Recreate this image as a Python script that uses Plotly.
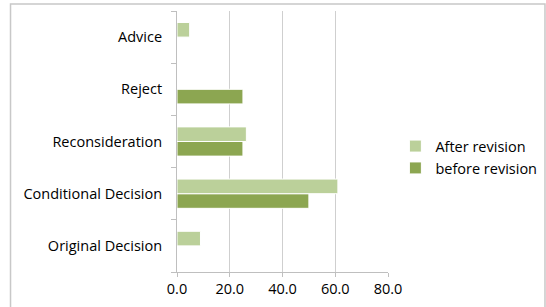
import plotly.graph_objects as go

categories = ["Original Decision", "Conditional Decision", "Reconsideration", "Reject", "Advice"]
after_revision = [8.9, 61.0, 26.3, None, 4.8]
before_revision = [None, 50.0, 25.0, 25.0, None]
x_ticks = [0, 20, 40, 60, 80]

fig = go.Figure()
fig.add_trace(go.Bar(y=categories, x=before_revision, orientation="h", name="before revision",
                     marker=dict(color="#8CA651", line=dict(color="white", width=1))))
fig.add_trace(go.Bar(y=categories, x=after_revision, orientation="h", name="After revision",
                     marker=dict(color="#BBD09A", line=dict(color="white", width=1))))

font_family = "'Open Sans', sans-serif"
fs = 14.5
fig.update_layout(
    width=546, height=307,
    margin=dict(l=177, r=158, t=11, b=35, autoexpand=False),
    paper_bgcolor="white", plot_bgcolor="white",
    barmode="group", bargap=0.44, bargroupgap=0,
    font=dict(family=font_family, size=fs, color="#000000"),
    showlegend=True,
    legend=dict(x=1.035, y=0.44, xanchor="left", yanchor="middle", traceorder="reversed",
                font=dict(size=fs), itemwidth=30, tracegroupgap=0, bgcolor="rgba(0,0,0,0)"),
    xaxis=dict(range=[0, 80], tickvals=x_ticks, tickformat=".1f", showgrid=True,
               gridcolor="#CFCFCF", gridwidth=1, showline=True, linecolor="#BFBFBF",
               ticks="outside", ticklen=4, tickcolor="#BFBFBF", zeroline=False,
               tickfont=dict(size=fs)),
    yaxis=dict(type="category", categoryorder="array", categoryarray=categories,
               showline=True, linecolor="#BFBFBF", ticks="outside", ticklen=5,
               tickcolor="#BFBFBF", tickson="boundaries", showgrid=False,
               ticklabelstandoff=11, tickfont=dict(size=fs)),
)
fig.add_shape(type="rect", xref="paper", yref="paper", x0=-0.789, x1=1.744, y0=-0.2, y1=1.027,
              line=dict(color="#C8C8C8", width=1.5), layer="below")
fig.write_html("out.html", config={"displayModeBar": False},
               post_script="document.body.style.margin='0';")
